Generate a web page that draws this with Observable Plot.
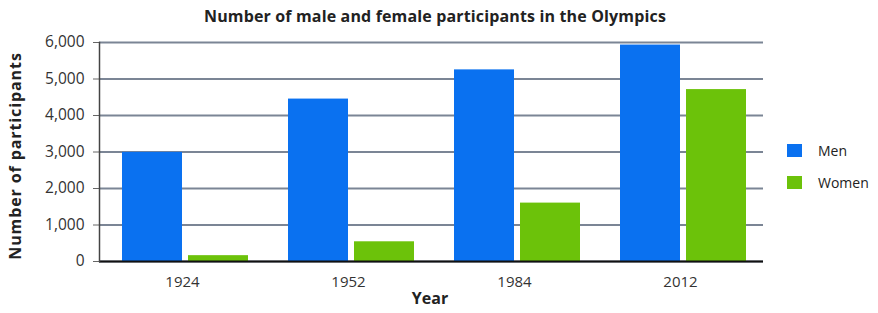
<!DOCTYPE html>
<html><head><meta charset="utf-8">
<script src="https://cdn.jsdelivr.net/npm/d3@7"></script>
<script src="https://cdn.jsdelivr.net/npm/@observablehq/plot@0.6"></script>
<style>
body{margin:0;background:#fff;}
#wrap{position:relative;width:878px;height:313px;font-family:"Open Sans",sans-serif;color:#222;overflow:hidden;}
#wrap svg{position:absolute;left:0;top:0;}
.t{position:absolute;white-space:nowrap;line-height:1;}
#title{left:0;width:870px;top:8px;text-align:center;font-weight:700;font-size:16px;letter-spacing:0.15px;}
#xlab{left:0;width:860px;top:290px;text-align:center;font-weight:700;font-size:16px;}
#ylab{left:15px;top:156px;transform:translate(-50%,-50%) rotate(-90deg);font-weight:700;font-size:16px;letter-spacing:0.9px;}
.lg{position:absolute;left:787px;display:flex;align-items:center;font-size:14px;}
.sw{width:15px;height:13px;margin-right:16px;}
</style></head><body><div id="wrap">
<div class="t" id="title">Number of male and female participants in the Olympics</div>
<div class="t" id="xlab">Year</div>
<div class="t" id="ylab">Number of participants</div>
</div>
<script>
const years = ["1924", "1952", "1984", "2012"];
const series = ["Men", "Women"];
const men = [2990, 4450, 5250, 5930];
const women = [160, 540, 1600, 4710];
const yTicks = [0, 1000, 2000, 3000, 4000, 5000, 6000];
const colors = ["#0a71f0", "#6cc20a"];

const data = years.flatMap((y, i) => [
  {year: y, series: series[0], value: men[i]},
  {year: y, series: series[1], value: women[i]}
]);

const chart = Plot.plot({
  width: 878, height: 313,
  marginTop: 42, marginBottom: 52, marginLeft: 97, marginRight: 114,
  style: {fontFamily: "Open Sans", fontSize: "14px", color: "#333", background: "transparent"},
  fx: {domain: years, padding: 0, label: null, axis: null},
  x: {domain: series, paddingInner: 0.09, paddingOuter: 0.29, align: 0.58, axis: null},
  y: {domain: [0, 6000], label: null, axis: null},
  color: {domain: series, range: colors},
  marks: [
    Plot.gridY(yTicks, {stroke: "#7b8595", strokeOpacity: 1, strokeWidth: 2}),
    Plot.axisY(yTicks, {tickFormat: d3.format(","), tickSize: 6, tickPadding: 9, fontSize: 15.5, stroke: "#666", label: null}),
    Plot.axisFx({anchor: "bottom", tickSize: 0, tickPadding: 15, fontSize: 15, label: null}),
    Plot.barY(data, {fx: "year", x: "series", y: "value", fill: "series"}),
    Plot.ruleY([0], {stroke: "#111", strokeWidth: 2}),
    Plot.frame({anchor: "left", facetAnchor: "left", stroke: "#444", strokeWidth: 1.5})
  ]
});
const wrap = document.getElementById("wrap");
wrap.prepend(chart);
series.forEach((s, i) => {
  const d = document.createElement("div");
  d.className = "lg";
  d.style.top = (141 + i * 32) + "px";
  d.innerHTML = `<div class="sw" style="background:${colors[i]}"></div><span>${s}</span>`;
  wrap.appendChild(d);
});
</script>
</body></html>
